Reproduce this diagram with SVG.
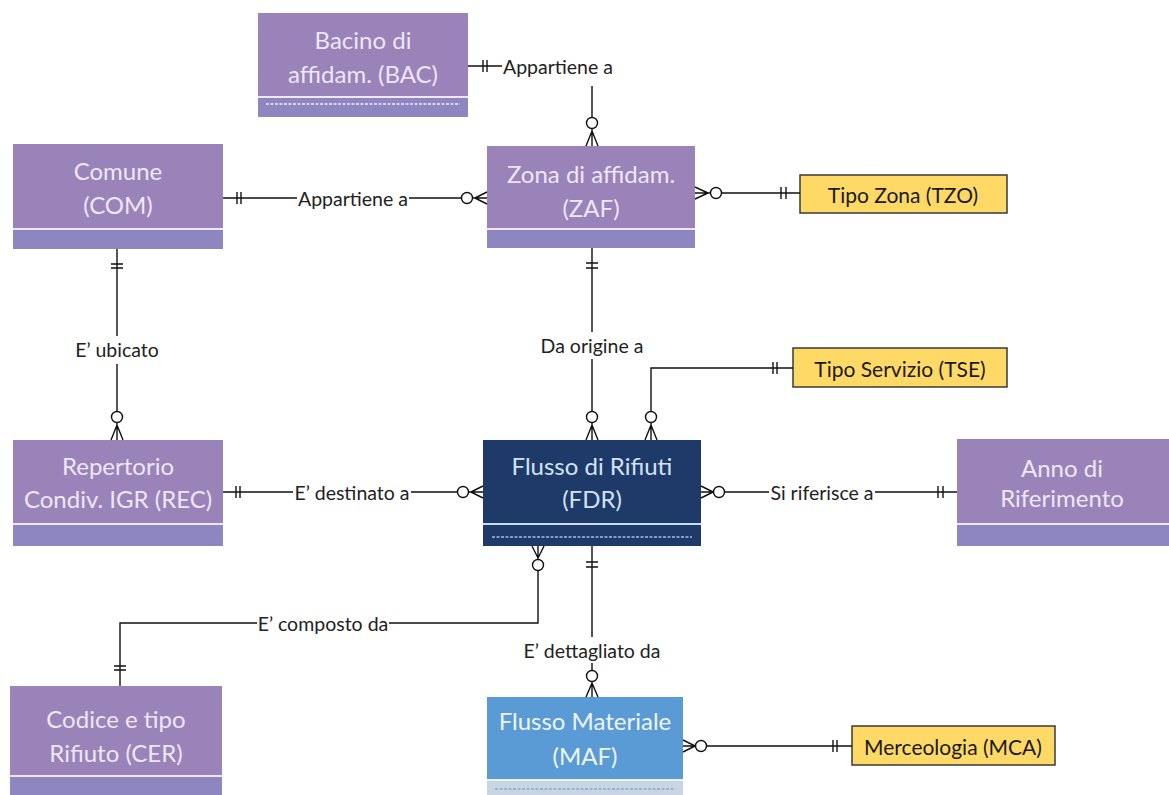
<svg xmlns="http://www.w3.org/2000/svg" width="1169" height="795" viewBox="0 0 1169 795">
  <style>
    .top { fill: #9a83b9; }
    .band { fill: #8d86c0; }
    .div { stroke: #efe7f7; stroke-width: 2; }
    .dash { stroke: #f2ecf8; stroke-width: 1.5; stroke-dasharray: 3 1.5; }
    .etxt { font-family: Lato, "Liberation Sans", sans-serif; font-size: 24px; fill: #efe6f7; text-anchor: middle; dominant-baseline: central; }
    .ytxt { font-family: Lato, "Liberation Sans", sans-serif; font-size: 21px; fill: #1a1a1a; text-anchor: middle; dominant-baseline: central; }
    .ybox { fill: #ffd966; stroke: #3a3a3a; stroke-width: 1.5; }
    .lbl { font-family: Lato, "Liberation Sans", sans-serif; font-size: 19.5px; fill: #222; text-anchor: middle; dominant-baseline: central; }
    .ln { fill: none; stroke: #111; stroke-width: 1.4; }
    .ring { fill: #fff; stroke: #111; stroke-width: 1.4; }
  </style>
  <rect width="1169" height="795" fill="#ffffff"/>

  <!-- Entities -->
  <g id="bac">
    <rect class="top" x="258" y="13" width="210" height="104"/>
    <rect class="band" x="258" y="98" width="210" height="19"/>
    <line class="div" x1="258" y1="97" x2="468" y2="97"/>
    <line class="dash" x1="266" y1="104" x2="460" y2="104"/>
    <text class="etxt" x="363" y="39">Bacino di</text>
    <text class="etxt" x="363" y="73">affidam. (BAC)</text>
  </g>
  <g id="com">
    <rect class="top" x="13" y="144" width="210" height="105"/>
    <rect class="band" x="13" y="230" width="210" height="19"/>
    <line class="div" x1="13" y1="229" x2="223" y2="229"/>
    <text class="etxt" x="118" y="170">Comune</text>
    <text class="etxt" x="118" y="204">(COM)</text>
  </g>
  <g id="zaf">
    <rect class="top" x="487" y="146" width="208" height="102"/>
    <rect class="band" x="487" y="230" width="208" height="18"/>
    <line class="div" x1="487" y1="229" x2="695" y2="229"/>
    <text class="etxt" x="591" y="173">Zona di affidam.</text>
    <text class="etxt" x="591" y="207">(ZAF)</text>
  </g>
  <g id="tzo">
    <rect class="ybox" x="800" y="175" width="207" height="38"/>
    <text class="ytxt" x="903" y="194">Tipo Zona (TZO)</text>
  </g>
  <g id="tse">
    <rect class="ybox" x="793" y="348" width="214" height="39"/>
    <text class="ytxt" x="900" y="368">Tipo Servizio (TSE)</text>
  </g>
  <g id="rec">
    <rect class="top" x="13" y="440" width="210" height="106"/>
    <rect class="band" x="13" y="525" width="210" height="21"/>
    <line class="div" x1="13" y1="524" x2="223" y2="524"/>
    <text class="etxt" x="118" y="465">Repertorio</text>
    <text class="etxt" x="118" y="498">Condiv. IGR (REC)</text>
  </g>
  <g id="fdr">
    <rect x="483" y="440" width="218" height="106" fill="#1d3a69"/>
    <line x1="483" y1="524" x2="701" y2="524" stroke="#c9dcf2" stroke-width="2"/>
    <line x1="492" y1="537" x2="692" y2="537" stroke="#9fbde3" stroke-width="1.5" stroke-dasharray="3 1.5"/>
    <text class="etxt" x="592" y="465" style="fill:#d3e3f6">Flusso di Rifiuti</text>
    <text class="etxt" x="592" y="498" style="fill:#d3e3f6">(FDR)</text>
  </g>
  <g id="anno">
    <rect class="top" x="957" y="439" width="212" height="107"/>
    <rect class="band" x="957" y="525" width="212" height="21"/>
    <line class="div" x1="957" y1="524" x2="1169" y2="524"/>
    <text class="etxt" x="1062" y="467">Anno di</text>
    <text class="etxt" x="1062" y="497">Riferimento</text>
  </g>
  <g id="cer">
    <rect class="top" x="10" y="686" width="212" height="109"/>
    <rect class="band" x="10" y="777" width="212" height="18"/>
    <line class="div" x1="10" y1="776" x2="222" y2="776"/>
    <text class="etxt" x="116" y="718">Codice e tipo</text>
    <text class="etxt" x="116" y="752">Rifiuto (CER)</text>
  </g>
  <g id="maf">
    <rect x="487" y="697" width="196" height="98" fill="#5b9bd5"/>
    <rect x="487" y="781" width="196" height="14" fill="#c8d6e4"/>
    <line x1="487" y1="780" x2="683" y2="780" stroke="#eaf2fb" stroke-width="2"/>
    <line x1="495" y1="789" x2="675" y2="789" stroke="#8aa9c8" stroke-width="1.5" stroke-dasharray="3 1.5"/>
    <text class="etxt" x="585" y="720" style="fill:#eef5fc">Flusso Materiale</text>
    <text class="etxt" x="585" y="755" style="fill:#eef5fc">(MAF)</text>
  </g>
  <g id="mca">
    <rect class="ybox" x="852" y="726" width="203" height="39"/>
    <text class="ytxt" x="953" y="746">Merceologia (MCA)</text>
  </g>

  <!-- Relationships -->
  <g id="connectors">
    <!-- BAC - ZAF -->
    <path class="ln" d="M468,66 H502 M592,86 V131 M592,131 L586,146 M592,131 V146 M592,131 L598,146 M483,60 V72 M487,60 V72"/>
    <circle class="ring" cx="592" cy="123" r="5.5"/>
    <text class="lbl" x="558" y="66">Appartiene a</text>

    <!-- COM - ZAF -->
    <path class="ln" d="M223,198 H297 M409,198 H475 M475,198 L487,192 M475,198 H487 M475,198 L487,204 M237,192 V204 M241,192 V204"/>
    <circle class="ring" cx="467" cy="198" r="5.5"/>
    <text class="lbl" x="353" y="198">Appartiene a</text>

    <!-- ZAF - TZO -->
    <path class="ln" d="M695,187 L708,193 M695,193 H800 M695,199 L708,193 M781,187 V199 M786,187 V199"/>
    <circle class="ring" cx="716" cy="193" r="5.5"/>

    <!-- COM - REC -->
    <path class="ln" d="M117,249 V336 M117,364 V425 M117,425 L111,440 M117,425 V440 M117,425 L123,440 M111,264 H123 M111,268 H123"/>
    <circle class="ring" cx="117" cy="417" r="5.5"/>
    <text class="lbl" x="117" y="349">E’ ubicato</text>

    <!-- ZAF - FDR -->
    <path class="ln" d="M592,248 V332 M592,359 V425 M592,425 L586,440 M592,425 V440 M592,425 L598,440 M586,263 H598 M586,268 H598"/>
    <circle class="ring" cx="592" cy="417" r="5.5"/>
    <text class="lbl" x="592" y="345">Da origine a</text>

    <!-- FDR - TSE -->
    <path class="ln" d="M793,368 H651 V425 M651,425 L645,440 M651,425 V440 M651,425 L657,440 M773,362 V374 M777,362 V374"/>
    <circle class="ring" cx="651" cy="417" r="5.5"/>

    <!-- REC - FDR -->
    <path class="ln" d="M223,492 H293 M411,492 H471 M471,492 L483,486 M471,492 H483 M471,492 L483,498 M236,486 V498 M240,486 V498"/>
    <circle class="ring" cx="463" cy="492" r="5.5"/>
    <text class="lbl" x="352" y="492">E’ destinato a</text>

    <!-- FDR - Anno -->
    <path class="ln" d="M701,486 L713,492 M701,492 H769 M875,492 H957 M701,498 L713,492 M938,486 V498 M943,486 V498"/>
    <circle class="ring" cx="719" cy="492" r="5.5"/>
    <text class="lbl" x="822" y="492">Si riferisce a</text>

    <!-- FDR - CER -->
    <path class="ln" d="M538,558 V623 H389 M257,623 H120 V686 M538,558 L532,546 M538,558 V546 M538,558 L544,546 M114,666 H126 M114,670 H126"/>
    <circle class="ring" cx="538" cy="565" r="5.5"/>
    <text class="lbl" x="323" y="623">E’ composto da</text>

    <!-- FDR - MAF -->
    <path class="ln" d="M592,546 V637 M592,663 V683 M592,683 L586,697 M592,683 V697 M592,683 L598,697 M586,562 H598 M586,567 H598"/>
    <circle class="ring" cx="592" cy="676" r="5.5"/>
    <text class="lbl" x="592" y="650">E’ dettagliato da</text>

    <!-- MAF - MCA -->
    <path class="ln" d="M683,740 L695,746 M683,746 H852 M683,752 L695,746 M833,740 V752 M837,740 V752"/>
    <circle class="ring" cx="701" cy="746" r="5.5"/>
  </g>
</svg>
